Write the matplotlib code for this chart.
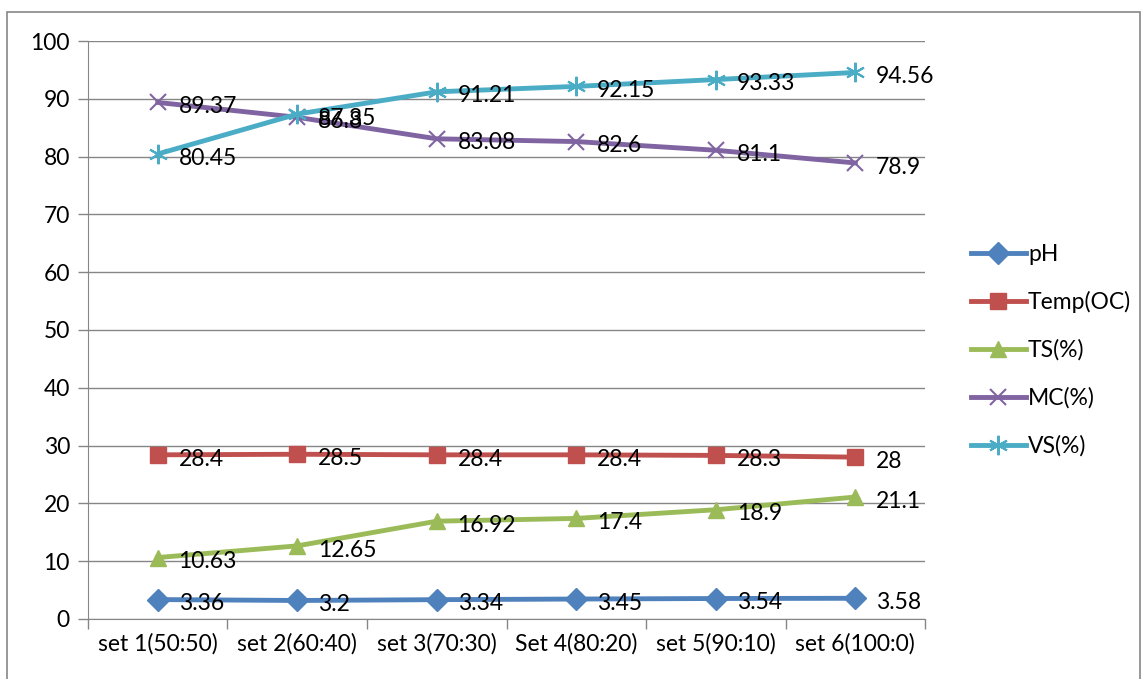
import numpy as np
import matplotlib
matplotlib.use("Agg")
import matplotlib.pyplot as plt
from matplotlib.patches import Rectangle

plt.rcParams['font.family'] = ['Lato', 'DejaVu Sans']

sets = ["set 1(50:50)", "set 2(60:40)", "set 3(70:30)",
        "Set 4(80:20)", "set 5(90:10)", "set 6(100:0)"]
ph = [3.36, 3.2, 3.34, 3.45, 3.54, 3.58]
temp = [28.4, 28.5, 28.4, 28.4, 28.3, 28]
ts = [10.63, 12.65, 16.92, 17.4, 18.9, 21.1]
mc = [89.37, 86.8, 83.08, 82.6, 81.1, 78.9]
vs = [80.45, 87.35, 91.21, 92.15, 93.33, 94.56]

series = [
    ("pH", ph, "#4F81BD", "D", 11),
    ("Temp(OC)", temp, "#C0504D", "s", 11),
    ("TS(%)", ts, "#9BBB59", "^", 12),
    ("MC(%)", mc, "#8064A2", "x", 12),
    ("VS(%)", vs, "#4BACC6", (6, 2, 0), 14),
]

fs = 16.5

fig = plt.figure(figsize=(11.47, 6.79), dpi=100)
ax = fig.add_axes([0.0767, 0.0884, 0.7298, 0.8512])

# chart area border
fig.patches.append(Rectangle((0.006, -0.01), 0.988, 0.992, transform=fig.transFigure,
                             fill=False, edgecolor="#868686", linewidth=1.2))

x = np.arange(len(sets)) + 0.5
for name, vals, color, marker, ms in series:
    ax.plot(x, vals, color=color, linewidth=3.5, marker=marker, markersize=ms,
            markeredgewidth=1.5 if marker in ("x", (6, 2, 0)) else 1,
            markeredgecolor=color, label=name, clip_on=False, zorder=3)
    for xi, v in zip(x, vals):
        ax.annotate(f"{v:g}", (xi, v), xytext=(15, -3), textcoords="offset points",
                    ha="left", va="center", fontsize=fs, zorder=4)

ax.set_xlim(0, 6)
ax.set_ylim(0, 100)
ax.set_yticks(np.arange(0, 101, 10))
ax.set_xticks(np.arange(0, 7))
ax.set_xticklabels([])
ax.set_xticks(x, minor=True)
ax.set_xticklabels(sets, minor=True)
ax.tick_params(axis="x", which="minor", length=0, pad=10, labelsize=fs)
ax.tick_params(axis="x", which="major", length=7, color="#868686", width=1)
ax.tick_params(axis="y", length=7, color="#868686", width=1, labelsize=fs, pad=6)
ax.grid(axis="y", color="#868686", linewidth=1)
ax.set_axisbelow(True)
for side in ("top", "right"):
    ax.spines[side].set_visible(False)
for side in ("left", "bottom"):
    ax.spines[side].set_color("#868686")

leg = ax.legend(loc="center left", bbox_to_anchor=(1.03, 0.465), frameon=False,
                fontsize=fs, handlelength=2.4, handletextpad=0.1, labelspacing=1.15)

fig.savefig("out.png", dpi=100)
